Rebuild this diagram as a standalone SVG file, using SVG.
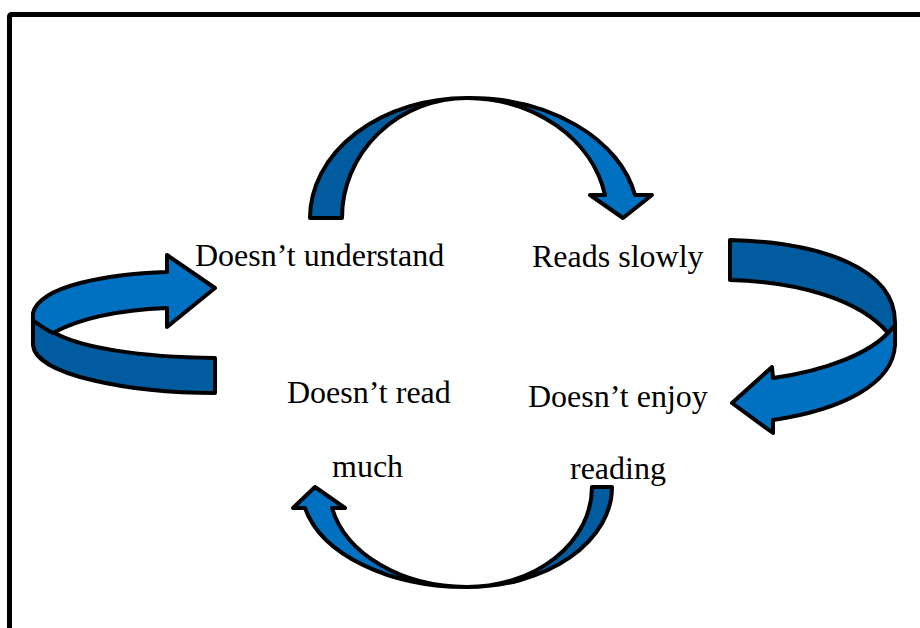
<svg xmlns="http://www.w3.org/2000/svg" width="920" height="628" viewBox="0 0 920 628">
<style>
.lbl{font-family:"Liberation Serif","Times New Roman",serif;font-size:32px;fill:#000}
.dk{fill:#005C9E;stroke:#000;stroke-width:4;stroke-linejoin:round}
.lt{fill:#0070C0;stroke:#000;stroke-width:4;stroke-linejoin:round}
</style>
<rect x="0" y="0" width="920" height="628" fill="#fff"/>
<rect x="9.5" y="14.5" width="1000" height="1000" rx="2" fill="none" stroke="#000" stroke-width="5"/>
<g id="connectors">
  <g id="arrow-top">
    <path class="dk" d="M310,218 A157,120 0 0 1 467,98 A125,120 0 0 0 342,218 Z"/>
    <path class="lt" d="M467,98 A169,120 0 0 1 635,195 L652,195 L623,218 L590,195 L605,195 A141,120 0 0 0 467,98 Z"/>
  </g>
  <g id="arrow-right">
    <path class="dk" d="M730,240 C820,242 895,268 895,322 L895,345 L888,333 C860,300 800,282 730,280 Z"/>
    <path class="lt" d="M888,333 C870,352 830,370 773,378 L772,367 L732,403 L773,433 L773,420 C840,410 893,385 895,345 L895,325 Z"/>
  </g>
  <g id="arrow-left">
    <path class="dk" d="M33,318 L33,345 C35,375 130,393 215,393 L215,358 C140,357 80,348 53,332 Z"/>
    <path class="lt" d="M167,272 C110,274 40,285 33,313 L33,320 C40,326 47,330 53,333 C80,318 120,310 167,308 L167,327 L215,288 L167,255 Z"/>
  </g>
  <g id="arrow-bottom">
    <path class="dk" d="M612,487 A145,100 0 0 1 467,587 A125,100 0 0 0 592,487 Z"/>
    <path class="lt" d="M467,587 A165,100 0 0 1 305,508 L293,508 L315,487 L345,508 L332,508 A138,100 0 0 0 467,587 Z"/>
  </g>
</g>
<g id="node-understand"><text class="lbl" x="195" y="266">Doesn’t understand</text></g>
<g id="node-reads-slowly"><text class="lbl" x="532" y="267">Reads slowly</text></g>
<g id="node-enjoy"><text class="lbl" x="528" y="407">Doesn’t enjoy</text><text class="lbl" x="570" y="479">reading</text></g>
<g id="node-read-much"><text class="lbl" x="287" y="403">Doesn’t read</text><text class="lbl" x="332" y="477">much</text></g>
</svg>
